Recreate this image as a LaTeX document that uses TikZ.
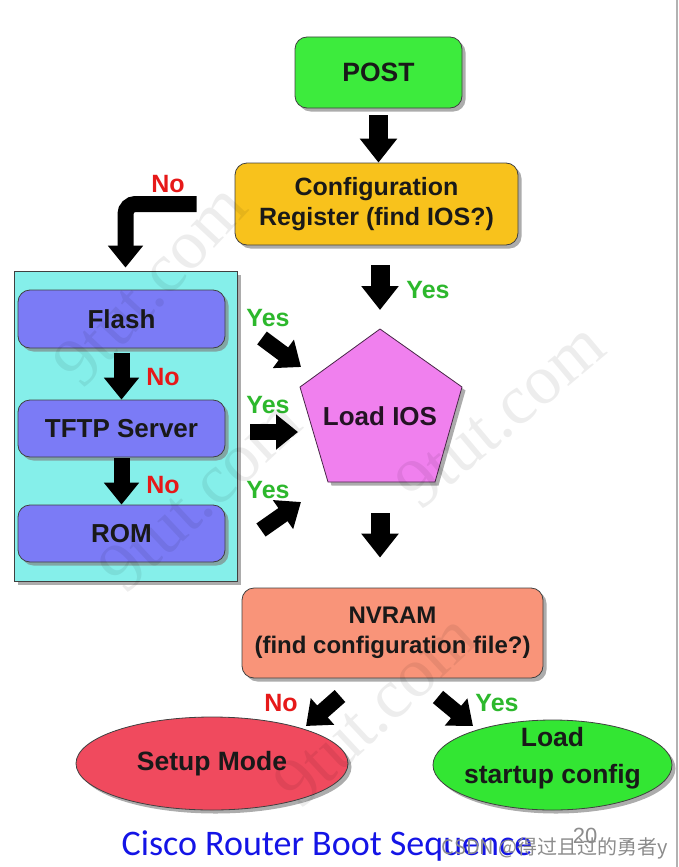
\documentclass[tikz,border=0pt]{standalone}
\usepackage{fontspec}
\setmainfont{Liberation Sans}
\newfontfamily\titlefont{Carlito}
\newfontfamily\markfont{Liberation Serif}
\newfontfamily\cjkfont{Noto Sans CJK SC}
\usetikzlibrary{arrows.meta,shapes.geometric,shadows}

\definecolor{postgreen}{HTML}{3DEB3D}
\definecolor{cfgorange}{HTML}{F8C21C}
\definecolor{grpcyan}{HTML}{85EFEA}
\definecolor{srcblue}{HTML}{7B7BF6}
\definecolor{iosviolet}{HTML}{F080EE}
\definecolor{nvsalmon}{HTML}{F99479}
\definecolor{setupred}{HTML}{F04A5E}
\definecolor{loadgreen}{HTML}{33E633}
\definecolor{nored}{HTML}{E61919}
\definecolor{yesgreen}{HTML}{2DB82D}
\definecolor{titleblue}{HTML}{1414E6}

\tikzset{
  shade/.style={drop shadow={shadow xshift=3.5pt,shadow yshift=-3.5pt,opacity=0.65}},
  box/.style={draw=black!75,line width=0.8pt,rounded corners=12pt,align=center,
    text=black!90,font=\bfseries\fontsize{25}{30}\selectfont,shade},
  srcbox/.style={box,fill=srcblue,minimum width=207pt,minimum height=57pt,
    font=\bfseries\fontsize{26}{30}\selectfont},
  oval/.style={ellipse,draw=black!75,line width=0.8pt,shade},
  ovaltext/.style={align=center,text=black!90,font=\bfseries\fontsize{26.5}{37}\selectfont},
  blk/.style={line width=19pt,-{Triangle[width=36pt,length=24pt]}},
  smallblk/.style={line width=16pt,-{Triangle[width=34pt,length=22pt]}},
  nolab/.style={text=nored,font=\bfseries\fontsize{25}{25}\selectfont},
  yeslab/.style={text=yesgreen,font=\bfseries\fontsize{25}{25}\selectfont},
  wm/.style={text=black,opacity=0.07,font=\markfont\fontsize{70}{70}\selectfont}
}

\begin{document}
\begin{tikzpicture}[x=1pt,y=-1pt]
  \useasboundingbox (0,0) rectangle (679,867);
  \draw[gray!60,line width=2pt] (677,0) -- (677,867);

  % top of the flow
  \node[box,fill=postgreen,minimum width=167pt,minimum height=71pt,font=\bfseries\fontsize{26.5}{30}\selectfont] (post) at (378.5,72.5) {POST};
  \node[box,fill=cfgorange,minimum width=283pt,minimum height=82pt] (cfg) at (376.5,204)
    {Configuration\\Register (find IOS?)};

  % IOS sources
  \node[draw=black!75,line width=0.8pt,fill=grpcyan,shade,minimum width=223pt,minimum height=310pt] (grp) at (125.5,426) {};
  \node[srcbox,minimum height=58pt] (flash) at (121.5,319) {Flash};
  \node[srcbox] (tftp) at (121.5,428.5) {TFTP Server};
  \node[srcbox] (rom) at (121.5,533.5) {ROM};

  % pentagon
  \coordinate (ios1) at (380,329);
  \coordinate (ios2) at (300,387);
  \coordinate (ios3) at (328,482);
  \coordinate (ios4) at (435,482);
  \coordinate (ios5) at (462,387);
  \filldraw[draw=black!70!iosviolet,line width=0.8pt,fill=iosviolet,shade]
    (ios1) -- (ios2) -- (ios3) -- (ios4) -- (ios5) -- cycle;
  \node[text=black!85!iosviolet,font=\bfseries\fontsize{26}{30}\selectfont] (ios) at (380,416) {Load IOS};

  % configuration file
  \node[box,fill=nvsalmon,minimum width=301pt,minimum height=90pt,font=\bfseries\fontsize{24}{30}\selectfont] (nvram) at (392.5,633)
    {NVRAM\\(find configuration file?)};
  \node[oval,fill=setupred,minimum width=272pt,minimum height=93pt] (setup) at (212,763.5) {};
  \node[ovaltext] (setuptxt) at (setup) {Setup Mode};
  \node[oval,fill=loadgreen,minimum width=239pt,minimum height=90pt] (startup) at (552.5,765) {};
  \node[ovaltext] (startuptxt) at (552.5,758.5) {Load\\startup config};

  % arrows
  \draw[blk,shorten <=7pt] (post.south) -- (post.south |- cfg.north);
  \draw[smallblk,rounded corners=10pt,shorten <=38pt,shorten >=3pt] (cfg.west) -| (grp.north);
  \draw[blk,shorten <=20pt,shorten >=19pt] (cfg.south -| ios1) -- (ios1);
  \draw[smallblk,shorten <=5pt] (flash.south) -- (tftp.north);
  \draw[smallblk,shorten <=1pt] (tftp.south) -- (rom.north);
  \draw[blk,shorten <=31pt,shorten >=30pt] (ios1 |- ios3) -- (ios1 |- nvram.north);

  \coordinate (f1) at (262,338);  \coordinate (f2) at (301,367);
  \coordinate (t1) at (250,432);  \coordinate (t2) at (298,432);
  \coordinate (r1) at (261,530);  \coordinate (r2) at (301,502);
  \coordinate (n1) at (340,696);  \coordinate (n2) at (306,726);
  \coordinate (s1) at (438,697);  \coordinate (s2) at (473,726);
  \draw[smallblk] (f1) -- (f2);
  \draw[smallblk] (t1) -- (t2);
  \draw[smallblk] (r1) -- (r2);
  \draw[smallblk] (n1) -- (n2);
  \draw[smallblk] (s1) -- (s2);

  % labels
  \node[nolab] (no1) at (168,184) {No};
  \node[nolab] (no2) at (163,377) {No};
  \node[nolab] (no3) at (163,485) {No};
  \node[nolab] (no4) at (281,703) {No};
  \node[yeslab] (yes1) at (428,290) {Yes};
  \node[yeslab] (yes2) at (268,318) {Yes};
  \node[yeslab] (yes3) at (268,405) {Yes};
  \node[yeslab] (yes4) at (268,490) {Yes};
  \node[yeslab] (yes5) at (497,703) {Yes};

  % watermarks
  \node[wm,rotate=47] (wm1) at (150,285) {9tut.com};
  \node[wm,rotate=43] (wm2) at (200,495) {9tut.com};
  \node[wm,rotate=40] (wm3) at (500,415) {9tut.com};
  \node[wm,rotate=43] (wm4) at (375,710) {9tut.com};

  \node[text=titleblue,font=\titlefont\fontsize{36}{36}\selectfont] (title) at (327,846) {Cisco Router Boot Sequence};
  \node[text=black!45,font=\fontsize{22}{22}\selectfont] (page) at (585,836) {20};
  \node[text=black!45,font=\cjkfont\fontsize{20}{20}\selectfont] (csdn) at (555,848) {CSDN @得过且过的勇者y};
\end{tikzpicture}
\end{document}
